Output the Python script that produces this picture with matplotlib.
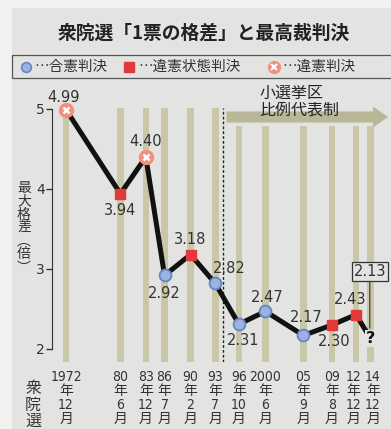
import matplotlib.pyplot as plt
from matplotlib.lines import Line2D
from matplotlib.patches import Rectangle, FancyArrowPatch
from matplotlib.transforms import ScaledTranslation

plt.rcParams['font.family'] = ['DejaVu Sans', 'Noto Sans CJK JP']
JP = ['Noto Sans CJK JP', 'DejaVu Sans']

# 衆院選の日付と最大格差
years = [1972, 1980, 1983, 1986, 1990, 1993, 1996, 2000, 2005, 2009, 2012, 2014]
months = [12, 6, 12, 7, 2, 7, 10, 6, 9, 8, 12, 12]
values = [4.99, 3.94, 4.40, 2.92, 3.18, 2.82, 2.31, 2.47, 2.17, 2.30, 2.43, 2.13]
# x: 違憲, s: 違憲状態, o: 合憲, ?: 未判決
kinds = ['x', 's', 'x', 'o', 's', 'o', 'o', 'o', 'o', 's', 's', '?']
tick_years = ['1972', '80', '83', '86', '90', '93', '96', '2000', '05', '09', '12', '14']
reform_year = 1994.6  # 小選挙区比例代表制

# label offsets in points (dx, dy)
offsets = [(-2, 9), (0, -12), (0, 11), (0, -13), (0, 11), (10, 11),
           (3, -12), (1, 10), (2, 13), (2, -12), (-4, 11)]

x = [y + (m - 0.5) / 12 for y, m in zip(years, months)]
labels = [f'{ty}\n年\n{m}\n月' for ty, m in zip(tick_years, months)]

bg = '#e3e3e1'
fig = plt.figure(figsize=(3.91, 4.29), dpi=100)
fig.patch.set_facecolor('#f1f1ef')
fig.add_artist(Rectangle((12 / 391, 0), 1, 1 - 8 / 429, transform=fig.transFigure,
                         facecolor=bg, edgecolor='none', zorder=0))

fig.text(204 / 391, 1 - 33 / 429, '衆院選「1票の格差」と最高裁判決', family=JP,
         fontsize=13.5, fontweight='bold', color='#222222', ha='center', va='center')

# legend box
fig.add_artist(Rectangle((12 / 391, 1 - 78 / 429), 1, 23 / 429, transform=fig.transFigure,
                         facecolor='none', edgecolor='#555555', lw=0.9))
ly = 1 - 66.5 / 429
fig.add_artist(Line2D([26 / 391], [ly], transform=fig.transFigure, marker='o', ms=7,
                      mfc='#9db3de', mec='#5f86c6', mew=1.2))
fig.add_artist(Line2D([129 / 391], [ly], transform=fig.transFigure, marker='s', ms=6.5,
                      mfc='#e23a3a', mec='#e23a3a'))
fig.add_artist(Line2D([274 / 391], [ly], transform=fig.transFigure, marker='o', ms=8.5,
                      mfc='#f2907f', mec='#f2907f'))
fig.add_artist(Line2D([274 / 391], [ly], transform=fig.transFigure, marker='x', ms=4,
                      mec='white', mew=1.5))
for lx, t in [(35, '…合憲判決'), (138, '…違憲状態判決'), (283, '…違憲判決')]:
    fig.text(lx / 391, ly, t, family=JP, fontsize=10.5, color='#333333', va='center')

ax = fig.add_axes([52 / 391, (429 - 362) / 429, 339 / 391, (362 - 89) / 429])
ax.set_facecolor('none')
ax.set_xlim(1971.02, 2017.78)
ax.set_ylim(1.8375, 5.25)

# vertical stripes for each election
for xi in x:
    top = 5.01 if xi < reform_year else 4.79
    ax.bar(xi, top - 1.8375, bottom=1.8375, width=0.9, color='#c9c7a8', zorder=1)

ax.plot([reform_year, reform_year], [1.8375, 5.01], color='#222222', lw=1,
        ls=(0, (2, 1.5)), zorder=2)
ax.add_patch(FancyArrowPatch((reform_year + 0.1, 4.9), (2017.78, 4.9),
                             arrowstyle='simple,head_length=1.1,head_width=1.5,tail_width=0.8',
                             mutation_scale=10, color='#bab798', lw=0, clip_on=False, zorder=2))
ax.text(1999.6, 4.88, '小選挙区\n比例代表制', family=JP, fontsize=11.5, color='#222222',
        ha='left', va='bottom', linespacing=0.95, zorder=3)

ax.plot(x, values, color='#111111', lw=3.6, zorder=4, solid_joinstyle='miter')
for xi, v, k in zip(x, values, kinds):
    if k == 'o':
        ax.plot(xi, v, 'o', ms=8.5, mfc='#9db3de', mec='#5f86c6', mew=1.3, zorder=5)
    elif k == 's':
        ax.plot(xi, v, 's', ms=7.5, mfc='#e23a3a', mec='#e23a3a', zorder=5)
    elif k == 'x':
        ax.plot(xi, v, 'o', ms=10, mfc='#f2907f', mec='#f2907f', zorder=5)
        ax.plot(xi, v, 'x', ms=4.5, mec='white', mew=1.8, zorder=6)
    else:
        ax.text(xi, v, '?', fontsize=11.5, fontweight='bold', color='#111111',
                ha='center', va='center', zorder=6,
                bbox=dict(boxstyle='square,pad=0.05', fc=bg, ec='none'))

for xi, v, (dx, dy) in zip(x, values, offsets):
    ax.annotate(f'{v:.2f}', (xi, v), xytext=(dx, dy), textcoords='offset points',
                ha='center', va='center', fontsize=10.5, color='#333333', zorder=7)

# 2.13 box with leader line
ax.annotate(f'{values[-1]:.2f}', (x[-1] - 0.1, values[-1] + 0.13), xytext=(0, 41),
            textcoords='offset points', ha='center', va='center', fontsize=10.5,
            color='#333333', zorder=7,
            bbox=dict(boxstyle='square,pad=0.12', fc=bg, ec='#333333', lw=0.9),
            arrowprops=dict(arrowstyle='-', color='#333333', lw=0.8, shrinkA=0, shrinkB=0))

for s in ['top', 'right', 'bottom']:
    ax.spines[s].set_visible(False)
ax.spines['left'].set_bounds(2, 5)
ax.spines['left'].set_color('#333333')
ax.set_yticks([2, 3, 4, 5])
ax.tick_params(axis='y', length=4, width=1, color='#333333', labelsize=10,
               labelcolor='#333333', pad=1)
ax.set_xticks(x, labels)
ax.tick_params(axis='x', length=0, pad=6, labelsize=10, labelcolor='#333333')
for t in ax.get_xticklabels():
    t.set_linespacing(1.0)
    t.set_fontstretch('condensed')
# nudge the last two crowded labels apart
xt = ax.get_xticklabels()
for t, d in [(xt[-2], -2.5), (xt[-1], 2.5)]:
    t.set_transform(t.get_transform() + ScaledTranslation(d / 100, 0, fig.dpi_scale_trans))

ax.set_ylabel('最\n大\n格\n差\n︵\n倍\n︶', family=JP, fontsize=10, rotation=0,
              linespacing=0.93, color='#333333', va='center', ha='center')
ax.yaxis.set_label_coords(-28 / 339, (362 - 228) / 273)
fig.text(33 / 391, 1 - 405 / 429, '衆\n院\n選', family=JP, fontsize=11.5,
         color='#333333', ha='center', va='center', linespacing=0.95)

fig.savefig('out.png', dpi=100, facecolor=fig.get_facecolor())
